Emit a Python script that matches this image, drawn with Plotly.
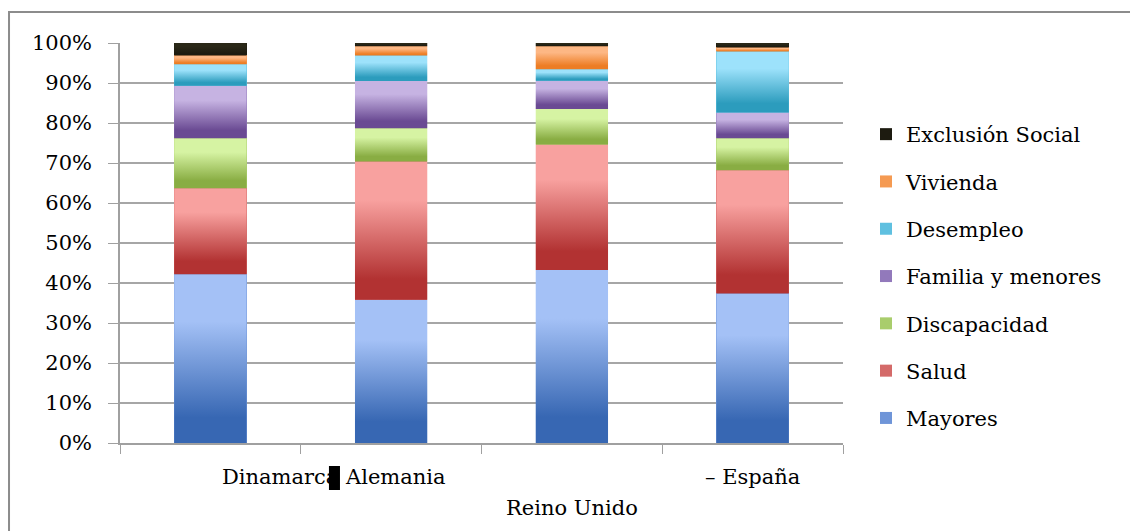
import plotly.graph_objects as go

# Gasto social por función (% del total)
paises = ["Dinamarca", "Alemania", "Reino Unido", "España"]
etiquetas_eje = ["Dinamarca", "Alemania", "Reino Unido", "– España"]

mayores = [42.2, 35.8, 43.25, 37.4]
salud = [21.5, 34.6, 31.35, 30.8]
discapacidad = [12.5, 8.3, 8.9, 8.0]
familia = [13.1, 11.8, 7.05, 6.4]
desempleo = [5.4, 6.4, 2.9, 15.3]
vivienda = [2.2, 2.3, 5.75, 1.0]
exclusion = [3.1, 0.8, 0.8, 1.1]

series = [
    ("Mayores", mayores),
    ("Salud", salud),
    ("Discapacidad", discapacidad),
    ("Familia y menores", familia),
    ("Desempleo", desempleo),
    ("Vivienda", vivienda),
    ("Exclusión Social", exclusion),
]

# (oscuro abajo, claro arriba, color de leyenda)
estilos = {
    "Mayores": ("#3767b3", "#a4c1f6", "#6f95d8"),
    "Salud": ("#b23232", "#f8a19f", "#d46a69"),
    "Discapacidad": ("#89ad43", "#d6f3a3", "#a9cd6c"),
    "Familia y menores": ("#6a4a93", "#c6b3e2", "#9279bb"),
    "Desempleo": ("#2c9cbd", "#9de2fb", "#5fc0e0"),
    "Vivienda": ("#ed7d24", "#fdb784", "#f59a52"),
    "Exclusión Social": ("#1d1b10", "#2a2818", "#1d1b10"),
}

FONT = "DejaVu Serif"
FS = 21
ANCHO = 0.4
x_pos = list(range(len(paises)))

fig = go.Figure()

# Barras apiladas (base de color sólido y entrada de leyenda)
n = len(series)
for k, (nombre, valores) in enumerate(series):
    oscuro, claro, medio = estilos[nombre]
    fig.add_trace(go.Bar(
        x=x_pos, y=valores, name=nombre, width=ANCHO,
        marker=dict(color=medio, line=dict(width=0)),
        legendgroup=nombre, legendrank=100 + n - k, hoverinfo="skip",
    ))

# Relleno degradado de cada segmento, calculado a partir de los mismos valores
base = [0.0] * len(paises)
for nombre, valores in series:
    oscuro, claro, medio = estilos[nombre]
    for i, v in enumerate(valores):
        y0, y1 = base[i], base[i] + v
        x0, x1 = x_pos[i] - ANCHO / 2, x_pos[i] + ANCHO / 2
        fig.add_trace(go.Scatter(
            x=[x0, x1, x1, x0, x0], y=[y0, y0, y1, y1, y0],
            mode="lines", line=dict(width=0), fill="toself",
            fillgradient=dict(
                type="vertical",
                colorscale=[[0, oscuro], [0.15, oscuro], [0.72, claro], [1, claro]],
            ),
            showlegend=False, hoverinfo="skip",
        ))
        base[i] = y1

# Etiquetas de categoría
pos_etiquetas = [
    (0.717, -0.085, "right"),
    (0.734, -0.085, "left"),
    (2.0, -0.1625, "center"),
    (3.0, -0.085, "center"),
]
for texto, (xa, ya, anc) in zip(etiquetas_eje, pos_etiquetas):
    fig.add_annotation(
        x=xa, y=ya, xref="x", yref="paper", text=texto, showarrow=False,
        xanchor=anc, yanchor="middle",
        font=dict(family=FONT, size=FS, color="#000000"),
    )

# Marco del gráfico y bloque negro entre las dos primeras etiquetas
fig.add_shape(type="rect", xref="paper", yref="paper",
              x0=-0.1535, x1=1.6, y0=-0.4, y1=1.0775,
              line=dict(color="#8c8c8c", width=2), layer="below")
fig.add_shape(type="rect", xref="x", yref="paper",
              x0=0.656, x1=0.717, y0=-0.1175, y1=-0.0575,
              fillcolor="#000000", line=dict(width=0))

fig.update_layout(
    width=1130, height=531,
    margin=dict(l=120, r=287, t=43, b=88),
    barmode="stack",
    plot_bgcolor="#ffffff", paper_bgcolor="#ffffff",
    font=dict(family=FONT, size=FS, color="#000000"),
    showlegend=True,
    legend=dict(
        xref="container", yref="container",
        x=866 / 1130, y=1 - 114 / 531, xanchor="left", yanchor="top",
        traceorder="grouped", tracegroupgap=17, maxheight=460,
        font=dict(family=FONT, size=FS, color="#000000"),
        bgcolor="rgba(0,0,0,0)", itemclick=False,
    ),
    xaxis=dict(
        range=[-0.5, 3.5], tickvals=[-0.5, 0.5, 1.5, 2.5, 3.5],
        ticktext=["", "", "", "", ""], ticks="outside", ticklen=9,
        tickcolor="#a0a0a0", showline=True, linecolor="#a0a0a0", linewidth=1.5,
        showgrid=False, zeroline=False, fixedrange=True,
    ),
    yaxis=dict(
        range=[0, 100], dtick=10, ticksuffix="%", ticks="outside", ticklen=10,
        tickcolor="#a0a0a0", showline=True, linecolor="#a0a0a0", linewidth=1.5,
        showgrid=True, gridcolor="#a6a6a6", gridwidth=1.5, zeroline=False,
        ticklabelstandoff=12, fixedrange=True,
    ),
)

fig.write_html("out.html")
